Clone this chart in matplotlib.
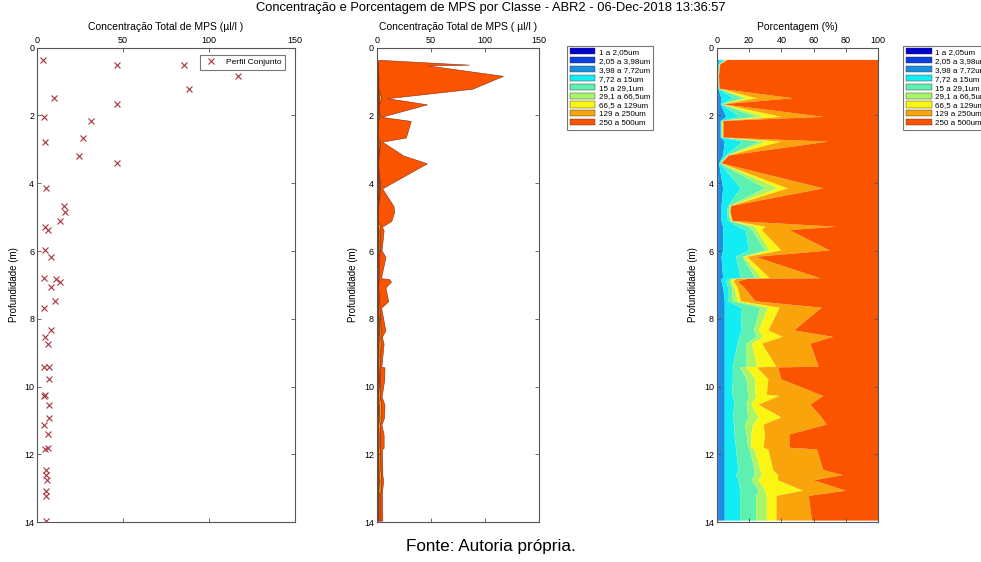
import numpy as np
import matplotlib
matplotlib.use('Agg')
import matplotlib.pyplot as plt
from matplotlib.patches import Patch

plt.rcParams['font.family'] = ['Liberation Sans', 'DejaVu Sans']

# profundidade (m) e concentracao total (ul/l) de cada amostra
depth = [0.36, 0.50, 0.52, 0.83, 1.21, 1.49, 1.67, 2.04, 2.16, 2.65, 2.77, 3.18, 3.41,
         4.15, 4.67, 4.85, 5.11, 5.28, 5.38, 5.98, 6.17, 6.80, 6.82, 6.90, 7.07,
         7.48, 7.67, 8.34, 8.53, 8.73, 9.41, 9.43, 9.78, 10.24, 10.27, 10.53, 10.91,
         11.12, 11.41, 11.80, 11.85, 12.46, 12.61, 12.76, 13.07, 13.22, 13.95]
total = [3.5, 85.4, 46.6, 116.7, 88.4, 9.7, 46.4, 4.1, 31.5, 26.9, 4.8, 24.6, 46.4,
         5.0, 15.5, 16.1, 13.5, 4.8, 6.4, 4.5, 8.1, 3.9, 11.2, 13.2, 8.1,
         10.6, 4.1, 8.0, 4.8, 6.4, 4.3, 7.2, 7.0, 4.8, 4.3, 7.2, 6.8,
         4.3, 6.4, 6.4, 4.8, 5.2, 5.2, 6.0, 5.0, 5.0, 5.2]

# porcentagem por classe
pct_1 = [0.3, 0.2, 0.2, 0.2, 0.2, 0.3, 0.3, 0.3, 0.3, 0.3, 0.3, 0.3, 0.2] + [0.3] * 34
pct_2 = [0.9, 0.4, 0.4, 0.3, 0.4, 0.9, 0.9, 0.9, 0.9, 0.9, 0.9, 0.9, 0.4] + [0.9] * 34
pct_3 = [0.8, 0.4, 0.4, 0.3, 0.4, 1.8, 1.3, 4.8, 1.3, 1.3, 3.8, 2.8, 0.9,
         2.8, 1.8, 1.8, 1.8, 2.8, 2.8, 2.8, 1.8, 2.8, 1.8, 1.8, 2.8] + [3.8] * 22
pct_4 = [2, 0.5, 0.5, 0.2, 0.3, 7, 0.5, 8, 0.5, 0.5, 11, 2, 0.5,
         11, 4, 3.5, 4, 9, 14, 16, 9, 11, 4, 3, 3,
         2, 10, 10.5, 9, 8, 5, 5, 5, 4.5, 5, 6, 5, 6, 6, 7, 7, 8.5, 7, 8.5, 9.5, 9.5, 9.5]
pct_5 = [1, 0.2, 0.2, 0.1, 0.1, 6, 0.3, 10, 0.3, 0.3, 11, 0.5, 0.3,
         15, 1, 1, 1.5, 7, 4, 10, 4, 9, 2, 2, 2.5,
         3, 12, 7.5, 11, 5.5, 8.5, 4.5, 8.5, 10, 10, 7.5, 9.5, 6.5, 7.5, 7.5, 8.5, 10, 11.5, 8, 11.5, 10, 10]
pct_6 = [0.5, 0.1, 0.1, 0.1, 0.1, 3, 0.3, 6, 0.3, 0.3, 4, 0.5, 0.2,
         8, 0.5, 0.5, 0.5, 4, 3, 3, 1, 4, 1, 1, 1.5,
         3, 5, 3, 4, 3.5, 6.5, 4, 5.5, 4.5, 5, 3, 6.5, 5, 3, 2, 3, 3.5, 4.5, 4.5, 4, 6.5, 6.5]
pct_7 = [0.5, 0.1, 0.1, 0.1, 0.1, 6, 0.2, 10, 0.2, 0.2, 9, 0.3, 0.2,
         6, 0.3, 0.3, 0.5, 6, 3, 7, 2, 5, 2, 1.5, 2,
         2, 7, 6, 12, 6, 12, 6.5, 8, 7, 14, 4.5, 14, 6.5, 8.5, 7.5, 8.5, 8, 10, 12, 23.5, 6, 6]
pct_8 = [1, 0.1, 0.3, 0.1, 0.2, 22, 0.2, 26, 0.7, 0.7, 29, 0.3, 0.3,
         22, 0.2, 0.2, 0.5, 44, 17, 30, 5, 31, 7, 2.5, 4,
         9, 26, 16, 31, 30, 26, 13, 8, 33, 27, 32, 25, 39, 15, 16, 30, 31, 40, 22, 26.5, 20, 22]
pct_9 = [93, 98, 97.8, 98.6, 98.2, 53, 96, 34, 95.5, 95.5, 31, 92.4, 97,
         34, 91, 91.5, 90, 26, 55, 30, 76, 36, 81, 87, 83,
         76, 35, 52, 28, 42, 37, 62, 60, 36, 34, 42, 35, 32, 55, 55, 38, 34, 22, 40, 20, 43, 41]

class_labels = ['1 a 2,05um', '2,05 a 3,98um', '3,98 a 7,72um', '7,72 a 15um', '15 a 29,1um',
                '29,1 a 66,5um', '66,5 a 129um', '129 a 250um', '250 a 500um']
class_colors = ['#0000d0', '#0a3ee6', '#1a8fe0', '#14ecf4', '#5ef0b0',
                '#a8f56a', '#fbf514', '#f8a40a', '#fb5400']

GRAY = '#555555'


def style_axes(ax, xmax, xticks, xlabel):
    ax.set_xlim(0, xmax)
    ax.set_ylim(14, 0)
    ax.set_xticks(xticks)
    ax.set_yticks(np.arange(0, 15, 2))
    ax.xaxis.tick_top()
    ax.xaxis.set_label_position('top')
    ax.tick_params(direction='in', length=3, width=0.6, labelsize=6.5, colors=GRAY,
                   labelcolor='black', top=True, bottom=True, left=True, right=True, pad=2)
    ax.set_xlabel(xlabel, fontsize=7.5, labelpad=4)
    ax.set_ylabel('Profundidade (m)', fontsize=7, labelpad=4)
    for s in ax.spines.values():
        s.set_color(GRAY)
        s.set_linewidth(0.8)


fig = plt.figure(figsize=(9.81, 5.62), dpi=100)

# painel 1 - perfil conjunto
ax1 = fig.add_axes([37 / 981, 1 - 522.3 / 562, 258 / 981, 474.6 / 562])
ax1.plot(total, depth, 'x', color='#a8323c', markersize=4.3, markeredgewidth=0.8, label='Perfil Conjunto')
style_axes(ax1, 150, [0, 50, 100, 150], 'Concentração Total de MPS (µl/l )')
leg = ax1.legend(loc='upper right', fontsize=6, frameon=True, fancybox=False,
                 borderpad=0.4, handletextpad=0.8, bbox_to_anchor=(0.978, 0.993))
leg.get_frame().set_edgecolor(GRAY)
leg.get_frame().set_linewidth(0.8)

pcts = np.array([pct_1, pct_2, pct_3, pct_4, pct_5, pct_6, pct_7, pct_8, pct_9])
d = np.array(depth)
conc = pcts * np.array(total) / 100.0

# painel 2 - concentracao por classe
ax2 = fig.add_axes([376.7 / 981, 1 - 522.3 / 562, 162.3 / 981, 474.6 / 562])
left = np.zeros(len(d))
for k in range(9):
    right = left + conc[k]
    ax2.fill_betweenx(d, left, right, facecolor=class_colors[k], edgecolor='#8a2a10',
                      linewidth=0.4)
    left = right
style_axes(ax2, 150, [0, 50, 100, 150], 'Concentração Total de MPS ( µl/l )')

# painel 3 - porcentagem por classe
ax3 = fig.add_axes([716.7 / 981, 1 - 522.3 / 562, 161.6 / 981, 474.6 / 562])
left = np.zeros(len(d))
for k in range(9):
    right = left + pcts[k]
    ax3.fill_betweenx(d, left, right, facecolor=class_colors[k], edgecolor='none', linewidth=0)
    left = right
style_axes(ax3, 100, [0, 20, 40, 60, 80, 100], 'Porcentagem (%)')

handles = [Patch(facecolor=c, edgecolor='#333333', linewidth=0.3) for c in class_colors]
for x0 in (566.7, 903.3):
    lg = fig.legend(handles, class_labels, loc='upper left', bbox_to_anchor=(x0 / 981, 1 - 45.5 / 562),
                    fontsize=5.8, frameon=True, fancybox=False, handlelength=3.2, handleheight=0.8,
                    labelspacing=0.12, borderpad=0.35, handletextpad=0.4, borderaxespad=0)
    lg.get_frame().set_edgecolor(GRAY)
    lg.get_frame().set_linewidth(0.8)

fig.text(0.5, 1 - 8 / 562, 'Concentração e Porcentagem de MPS por Classe - ABR2 - 06-Dec-2018 13:36:57',
         ha='center', va='center', fontsize=9.3)
fig.text(0.5, 1 - 547 / 562, 'Fonte: Autoria própria.', ha='center', va='center', fontsize=12.3)

fig.savefig('out.png', dpi=100)
